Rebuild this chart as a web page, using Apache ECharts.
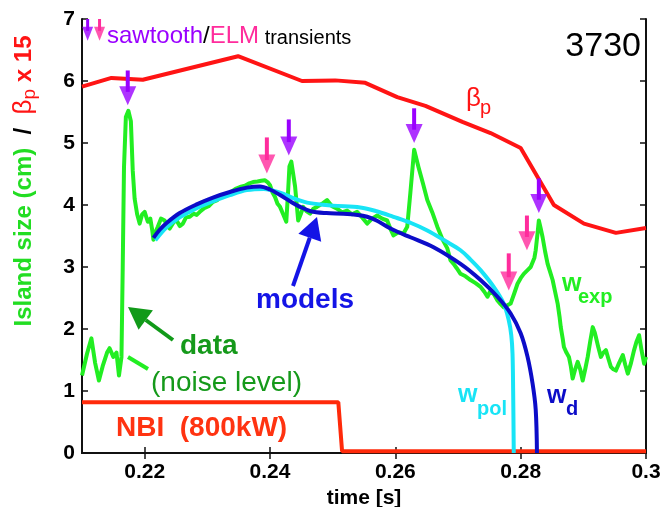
<!DOCTYPE html>
<html>
<head>
<meta charset="utf-8">
<script src="https://cdn.jsdelivr.net/npm/echarts@6.0.0/dist/echarts.min.js"></script>
<style>
  html, body { margin: 0; padding: 0; background: #fff; }
  #chart { width: 670px; height: 507px; }
</style>
</head>
<body>
<div id="chart"></div>
<script>
// time [s], island size [cm]
const wExp = [
  [0.2100,1.25],[0.2108,1.60],[0.2115,1.85],[0.2121,1.45],[0.2127,1.17],[0.2133,1.40],[0.2140,1.62],[0.2144,1.69],
  [0.2150,1.55],[0.2155,1.62],[0.2159,1.25],[0.2163,1.55],[0.2165,3.00],[0.2167,4.60],[0.2170,5.42],[0.2174,5.52],
  [0.2178,5.35],[0.2181,4.55],[0.2184,4.10],[0.2188,3.85],[0.2192,3.70],[0.2196,3.85],[0.2200,3.89],[0.2205,3.73],
  [0.2209,3.78],[0.2212,3.60],[0.2214,3.44],[0.2218,3.58],[0.2221,3.65],[0.2226,3.78],[0.2232,3.75],[0.2236,3.66],
  [0.2240,3.62],[0.2246,3.72],[0.2251,3.75],[0.2256,3.66],[0.2261,3.70],[0.2266,3.80],[0.2272,3.81],[0.2278,3.86],
  [0.2283,3.84],[0.2288,3.89],[0.2295,3.95],[0.2302,3.98],[0.2309,4.05],[0.2316,4.08],[0.2323,4.14],[0.2331,4.18],
  [0.2338,4.21],[0.2345,4.26],[0.2352,4.29],[0.2360,4.31],[0.2367,4.35],[0.2373,4.37],[0.2380,4.38],[0.2386,4.39],
  [0.2392,4.40],[0.2397,4.36],[0.2400,4.32],[0.2404,4.20],[0.2408,4.13],[0.2412,4.02],[0.2416,3.97],[0.2421,3.85],
  [0.2426,3.73],[0.2429,4.24],[0.2431,4.62],[0.2434,4.70],[0.2437,4.67],[0.2440,4.30],[0.2442,4.08],[0.2445,3.75],
  [0.2449,3.85],[0.2453,3.97],[0.2458,3.90],[0.2464,3.86],[0.2469,3.94],[0.2475,3.97],[0.2483,4.02],[0.2491,4.08],
  [0.2499,3.98],[0.2507,3.94],[0.2515,3.88],[0.2523,3.91],[0.2531,3.85],[0.2539,3.89],[0.2547,3.80],[0.2555,3.70],
  [0.2563,3.78],[0.2571,3.83],[0.2579,3.78],[0.2587,3.75],[0.2592,3.62],[0.2597,3.51],[0.2605,3.56],[0.2613,3.54],
  [0.2619,3.65],[0.2624,4.20],[0.2630,4.89],[0.2637,4.61],[0.2644,4.35],[0.2651,4.08],[0.2659,3.88],[0.2667,3.65],
  [0.2675,3.45],[0.2683,3.30],[0.2688,3.11],[0.2693,3.05],[0.2698,2.98],[0.2704,2.89],[0.2712,2.85],[0.2720,2.79],
  [0.2728,2.74],[0.2736,2.68],[0.2742,2.60],[0.2747,2.52],[0.2752,2.62],[0.2758,2.55],[0.2763,2.46],[0.2768,2.40],
  [0.2773,2.35],[0.2778,2.38],[0.2784,2.41],[0.2790,2.58],[0.2795,2.73],[0.2800,2.82],[0.2805,2.89],[0.2811,2.95],
  [0.2816,3.00],[0.2819,3.03],[0.2822,3.15],[0.2824,3.27],[0.2827,3.55],[0.2829,3.75],[0.2832,3.62],[0.2835,3.48],
  [0.2839,3.25],[0.2843,3.05],[0.2847,2.92],[0.2851,2.79],[0.2855,2.60],[0.2859,2.41],[0.2862,2.20],[0.2864,2.03],
  [0.2867,1.85],[0.2869,1.71],[0.2873,1.62],[0.2877,1.55],[0.2880,1.40],[0.2883,1.20],[0.2887,1.35],[0.2891,1.47],
  [0.2895,1.35],[0.2899,1.17],[0.2903,1.35],[0.2907,1.55],[0.2911,1.80],[0.2915,2.03],[0.2918,1.95],[0.2920,1.87],
  [0.2924,1.70],[0.2928,1.55],[0.2932,1.62],[0.2936,1.66],[0.2940,1.52],[0.2944,1.39],[0.2948,1.35],[0.2952,1.33],
  [0.2957,1.45],[0.2963,1.58],[0.2967,1.42],[0.2971,1.28],[0.2976,1.45],[0.2981,1.66],[0.2985,1.80],[0.2989,1.90],
  [0.2993,1.65],[0.2997,1.44],[0.3000,1.55]
];

// beta_p x 15
const betaP = [
  [0.2100,5.91],[0.2147,6.05],[0.2197,6.02],[0.2349,6.40],[0.2451,6.00],[0.2504,6.01],[0.2552,5.97],[0.2603,5.74],
  [0.2648,5.60],[0.2707,5.34],[0.2752,5.16],[0.2800,4.92],[0.2853,4.00],[0.2901,3.70],[0.2952,3.55],[0.3000,3.63]
];

// model island widths
const wPol = [
  [0.2217,3.43],[0.2235,3.64],[0.2256,3.80],[0.2283,3.95],[0.2309,4.06],[0.2336,4.16],[0.2363,4.24],[0.2390,4.26],
  [0.2416,4.20],[0.2440,4.10],[0.2464,4.03],[0.2500,3.99],[0.2544,3.96],[0.2570,3.90],[0.2597,3.81],[0.2625,3.71],
  [0.2651,3.59],[0.2680,3.42],[0.2704,3.27],[0.2720,3.12],[0.2736,2.95],[0.2757,2.68],[0.2773,2.41],[0.2781,2.14],
  [0.2785,1.90],[0.2787,1.60],[0.2788,1.00],[0.2789,0.00]
];

const wD = [
  [0.2214,3.47],[0.2224,3.60],[0.2235,3.71],[0.2256,3.87],[0.2283,4.01],[0.2309,4.12],[0.2336,4.21],[0.2363,4.28],
  [0.2384,4.30],[0.2400,4.25],[0.2416,4.16],[0.2432,4.06],[0.2448,3.97],[0.2465,3.90],[0.2490,3.87],[0.2517,3.86],
  [0.2540,3.84],[0.2555,3.81],[0.2570,3.75],[0.2587,3.65],[0.2605,3.56],[0.2624,3.48],[0.2661,3.32],[0.2704,3.05],
  [0.2736,2.79],[0.2763,2.52],[0.2784,2.25],[0.2800,1.93],[0.2811,1.55],[0.2819,1.12],[0.2824,0.70],[0.2826,0.00]
];

// NBI power step (scaled)
const nbi = [[0.2100,0.82],[0.2509,0.82],[0.2515,0.03],[0.3000,0.03]];

// transient arrows: [time, top, tip]
const sawtoothArrows = [[0.2173,6.17,5.61],[0.2430,5.38,4.80],[0.2630,5.56,5.00],[0.2829,4.43,3.87]];
const elmArrows = [[0.2395,5.09,4.51],[0.2810,3.83,3.27],[0.2781,3.22,2.62]];
const keyArrows = [[0.2109,7.00,6.65,'#9a00ff'],[0.2128,7.00,6.65,'#ff2c9c']];

const xTicks = [0.22,0.24,0.26,0.28,0.3];

const FONT = 'Liberation Sans, Arial, sans-serif';
const PURPLE = '#9a00ff', PINK = '#ff2c9c', GREEN = '#22ee22', DKGREEN = '#15991a';
const RED = '#ff1414', CYAN = '#18e4f6', BLUE = '#0c0cc8';

function arrowSeries(list, color, headW, headH, unitPx) {
  const out = [];
  list.forEach(a => {
    const c = a[3] || color;
    const hw = a[3] ? 11 : headW, hh = a[3] ? 14 : headH;
    const hv = hh / unitPx;
    out.push({
      type: 'line', data: [[a[0], a[1]], [a[0], a[2] + hv * 0.7]], symbol: 'none', clip: false,
      lineStyle: { color: c, width: a[3] ? 3 : 4 }, z: 10, silent: true
    });
    out.push({
      type: 'scatter', data: [[a[0], a[2] + hv / 2]], symbol: 'triangle', symbolSize: [hw, hh],
      symbolRotate: 180, itemStyle: { color: c }, z: 11, clip: false, silent: true
    });
  });
  return out;
}

function pointer(x1, y1, x2, y2, color, width, head) {
  const dx = x2 - x1, dy = y2 - y1, len = Math.hypot(dx, dy);
  const ux = dx / len, uy = dy / len;
  const bx = x2 - ux * head, by = y2 - uy * head;
  const px = -uy * head * 0.55, py = ux * head * 0.55;
  return [
    { type: 'line', shape: { x1: x1, y1: y1, x2: bx, y2: by }, style: { stroke: color, lineWidth: width }, z: 100 },
    { type: 'polygon', shape: { points: [[x2, y2], [bx + px, by + py], [bx - px, by - py]] }, style: { fill: color }, z: 100 }
  ];
}

function label(text, x, y, color, size, weight, align) {
  return {
    type: 'text', x: x, y: y, z: 100,
    style: {
      text: text, fill: color, fontSize: size, fontWeight: weight || 'normal', fontFamily: FONT,
      textAlign: align || 'left', textVerticalAlign: 'middle'
    }
  };
}

const chartDom = document.getElementById('chart');
const myChart = echarts.init(chartDom, null, { renderer: 'canvas' });
const unitPx = (507 - 19 - 54) / 7;

const option = {
  animation: false,
  backgroundColor: '#fff',
  grid: { left: 82, right: 24, top: 19, bottom: 54, outerBoundsMode: 'none', containLabel: false },
  xAxis: [{
    type: 'value', min: 0.21, max: 0.3, position: 'bottom',
    axisLine: { lineStyle: { color: '#111', width: 2 } },
    axisTick: { inside: true, length: 6, customValues: xTicks, lineStyle: { color: '#111', width: 1.5 } },
    axisLabel: { customValues: xTicks, color: '#000', fontSize: 21, fontWeight: 'bold', fontFamily: FONT, margin: 9 },
    splitLine: { show: false },
    name: 'time [s]', nameLocation: 'middle', nameGap: 31,
    nameTextStyle: { color: '#000', fontSize: 21, fontWeight: 'bold', fontFamily: FONT }
  }, {
    type: 'value', min: 0.21, max: 0.3, position: 'top',
    axisLine: { lineStyle: { color: '#111', width: 2 } },
    axisTick: { inside: true, length: 6, customValues: xTicks, lineStyle: { color: '#111', width: 1.5 } },
    axisLabel: { show: false }, splitLine: { show: false }
  }],
  yAxis: [{
    type: 'value', min: 0, max: 7, interval: 1, position: 'left',
    axisLine: { show: true, lineStyle: { color: '#111', width: 2 } },
    axisTick: { show: true, inside: true, length: 6, lineStyle: { color: '#111', width: 1.5 } },
    axisLabel: { color: '#000', fontSize: 21, fontWeight: 'bold', fontFamily: FONT, margin: 7 },
    splitLine: { show: false }
  }, {
    type: 'value', min: 0, max: 7, interval: 1, position: 'right',
    axisLine: { show: true, lineStyle: { color: '#111', width: 2 } },
    axisTick: { show: true, inside: true, length: 6, lineStyle: { color: '#111', width: 1.5 } },
    axisLabel: { show: false }, splitLine: { show: false }
  }],
  series: [
    { type: 'line', data: betaP, symbol: 'none', lineStyle: { color: RED, width: 4 }, z: 2 },
    { type: 'line', data: nbi, symbol: 'none', lineStyle: { color: '#ff2a0a', width: 4 }, z: 2 },
    { type: 'line', data: wExp, symbol: 'none', lineStyle: { color: GREEN, width: 4, join: 'round' }, z: 3 },
    { type: 'line', data: wPol, symbol: 'none', smooth: 0.35, lineStyle: { color: CYAN, width: 4 }, z: 4 },
    { type: 'line', data: wD, symbol: 'none', smooth: 0.35, lineStyle: { color: BLUE, width: 4 }, z: 5 }
  ]
    .concat(arrowSeries(sawtoothArrows, PURPLE, 17, 19, unitPx))
    .concat(arrowSeries(elmArrows, PINK, 17, 19, unitPx))
    .concat(arrowSeries(keyArrows, PURPLE, 11, 14, unitPx)),
  graphic: [
    {
      type: 'text', x: 107, y: 34, z: 100,
      style: {
        text: '{p|sawtooth}{k|/}{m|ELM}{t| transients}', fontFamily: FONT, textVerticalAlign: 'middle',
        rich: {
          p: { fill: PURPLE, fontSize: 24, fontFamily: FONT, lineHeight: 28, verticalAlign: 'bottom' },
          k: { fill: '#000', fontSize: 24, fontFamily: FONT, lineHeight: 28, verticalAlign: 'bottom' },
          m: { fill: PINK, fontSize: 24, fontFamily: FONT, lineHeight: 28, verticalAlign: 'bottom' },
          t: { fill: '#000', fontSize: 20, fontFamily: FONT, lineHeight: 25, verticalAlign: 'bottom' }
        }
      }
    },
    label('3730', 641, 47, '#000', 34, 'normal', 'right'),
    label('\u03b2', 466, 99, RED, 26),
    label('p', 480, 108, RED, 20),
    label('models', 256, 300, '#1414e6', 28, 'bold'),
    label('data', 180, 346, DKGREEN, 28, 'bold'),
    label('(noise level)', 151, 383, DKGREEN, 28),
    label('NBI  (800kW)', 116, 428, '#ff3311', 28, 'bold'),
    label('w', 562, 284, GREEN, 25, 'bold'),
    label('exp', 578, 297, GREEN, 20, 'bold'),
    label('w', 458, 395, CYAN, 25, 'bold'),
    label('pol', 477, 409, CYAN, 20, 'bold'),
    label('w', 547, 396, BLUE, 25, 'bold'),
    label('d', 566, 409, BLUE, 20, 'bold'),
    {
      type: 'text', x: 24, y: 181, rotation: Math.PI / 2, z: 100,
      style: {
        text: '{g|Island size (cm)}{k|  /  }{b|\u03b2}{s|p}{r| x 15}', fontFamily: FONT,
        textAlign: 'center', textVerticalAlign: 'middle',
        rich: {
          g: { fill: '#22dd22', fontSize: 24, fontWeight: 'bold', fontFamily: FONT, lineHeight: 30, verticalAlign: 'middle' },
          k: { fill: '#000', fontSize: 24, fontWeight: 'bold', fontFamily: FONT, lineHeight: 30, verticalAlign: 'middle' },
          b: { fill: RED, fontSize: 26, fontFamily: FONT, lineHeight: 30, verticalAlign: 'middle' },
          s: { fill: RED, fontSize: 19, fontFamily: FONT, lineHeight: 19, verticalAlign: 'bottom' },
          r: { fill: RED, fontSize: 24, fontWeight: 'bold', fontFamily: FONT, lineHeight: 30, verticalAlign: 'middle' }
        }
      }
    }
  ]
    .concat(pointer(173, 340, 128, 307, '#119a19', 4, 22))
    .concat([{ type: 'line', shape: { x1: 128, y1: 357, x2: 148, y2: 369 }, style: { stroke: GREEN, lineWidth: 4 }, z: 100 }])
    .concat(pointer(293, 286, 317, 217, '#1414e6', 4, 22))
};

myChart.setOption(option);
</script>
</body>
</html>
